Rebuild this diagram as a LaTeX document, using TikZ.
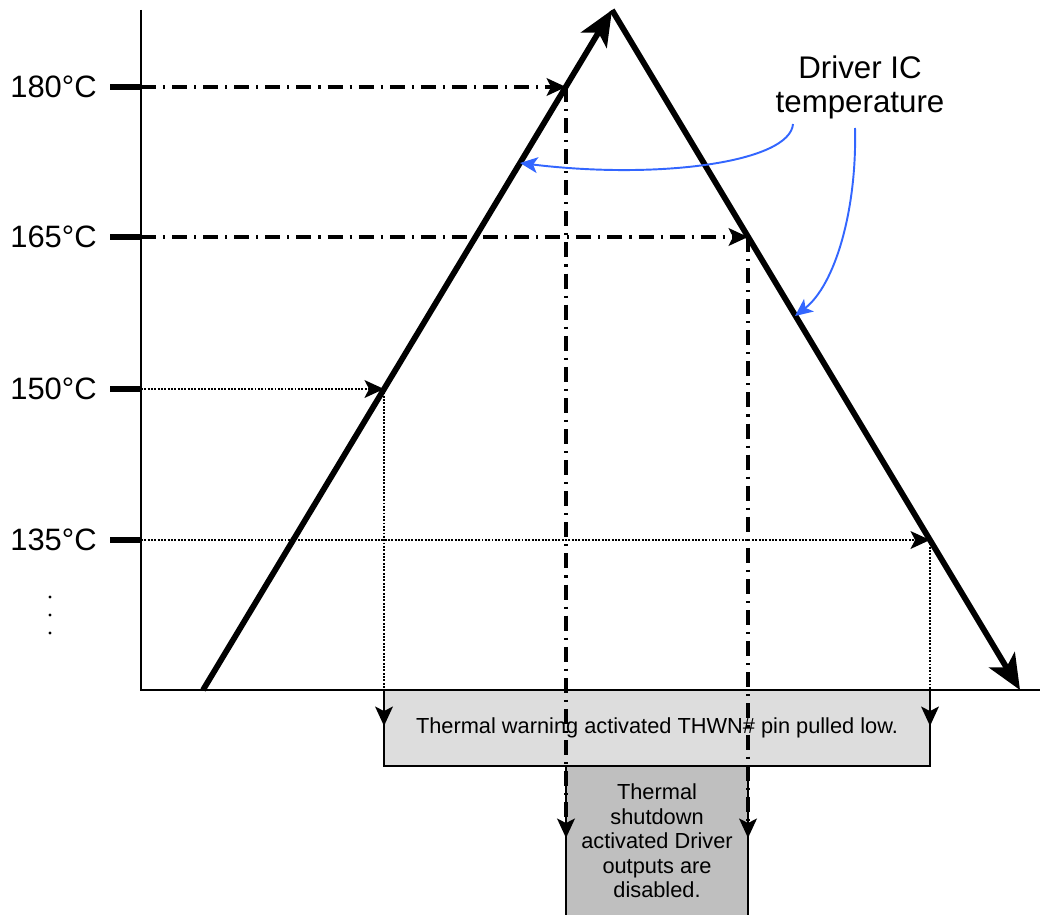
\documentclass[tikz,border=0pt]{standalone}
\usepackage{fontspec}
\setmainfont{Liberation Sans}
\usetikzlibrary{arrows.meta}
\definecolor{icblue}{RGB}{51,102,255}
\definecolor{warngray}{RGB}{221,221,221}
\definecolor{shutgray}{RGB}{191,191,191}
\begin{document}
\begin{tikzpicture}
	[x=0.02cm,y=-0.02cm,
		axis/.style={black,line width=1.6pt},
		tick/.style={black,line width=2.9pt},
		ramp/.style={-{Stealth[length=20pt,width=17pt,inset=5pt]},black,line width=3.3pt},
		shutdown/.style={-{Stealth[length=11pt,width=10pt,inset=2.5pt]},black,line width=1.9pt,dash pattern=on 8.5pt off 4pt on 1.2pt off 4pt},
		warning/.style={-{Stealth[length=11pt,width=10pt,inset=2.5pt]},black,line width=1.6pt,dash pattern=on 1.1pt off 0.8pt},
		pointer/.style={-{Stealth[length=10pt,width=9pt,inset=2.5pt]},icblue,line width=1.1pt},
		templabel/.style={anchor=east,inner sep=0pt,font=\fontsize{17.6}{20}\selectfont},
		statebox/.style={draw=black,line width=1.1pt,inner sep=0pt,align=center,font=\fontsize{12.4}{13.9}\selectfont}]
	\useasboundingbox (0,0) rectangle (1040,915);
	% state boxes
	\node[statebox,fill=warngray,minimum width=10.92cm,minimum height=1.52cm] (warn) at (657,728)
		{Thermal warning activated THWN\# pin pulled low.};
	\node[statebox,fill=shutgray,minimum width=3.64cm,minimum height=3.0cm] (shut) at (657,841)
		{Thermal\\shutdown\\activated Driver\\outputs are\\disabled.};
	% axes
	\coordinate (O) at (141,690);
	\coordinate (top) at (141,10);
	\coordinate (end) at (1040,690);
	\draw[axis] (top) -- (O) -- (end);
	\foreach \t/\y in {180/87,165/237,150/389,135/540}{
		\coordinate (y\t) at (141,\y);
		\coordinate (t\t) at (110,\y);
		\draw[tick] (t\t) -- (y\t);
		\node[templabel] (l\t) at (97,\y) {\t°C};
	}
	\foreach \y in {597,615,633}
		\fill (50,\y) circle (1.7);
	% thresholds
	\coordinate (c180) at (566,87);
	\coordinate (c165) at (748,237);
	\coordinate (c150) at (384,389);
	\coordinate (c135) at (930,540);
	\coordinate (b180) at (566,838);
	\coordinate (b165) at (748,838);
	\coordinate (b150) at (384,726);
	\coordinate (b135) at (930,726);
	\draw[shutdown] (y180) -- (c180);
	\draw[shutdown] (c180) -- (b180);
	\draw[shutdown] (y165) -- (c165);
	\draw[shutdown] (c165) -- (b165);
	\draw[warning] (y150) -- (c150);
	\draw[warning] (c150) -- (b150);
	\draw[warning] (y135) -- (c135);
	\draw[warning] (c135) -- (b135);
	% temperature ramp
	\coordinate (start) at (203,690);
	\coordinate (peak) at (612,10);
	\coordinate (stop) at (1020,690);
	\draw[ramp] (start) -- (peak);
	\draw[ramp] (peak) -- (stop);
	% label
	\node[align=center,inner sep=0pt,font=\fontsize{17.8}{19.3}\selectfont] (ic) at (860,87) {Driver IC\\temperature};
	\coordinate (p1) at (793,124);
	\coordinate (h1) at (520,163);
	\coordinate (p2) at (855,128);
	\coordinate (h2) at (795,316);
	\draw[pointer] (p1) .. controls (790,162) and (660,180) .. (h1);
	\draw[pointer] (p2) .. controls (857,210) and (835,285) .. (h2);
\end{tikzpicture}
\end{document}
